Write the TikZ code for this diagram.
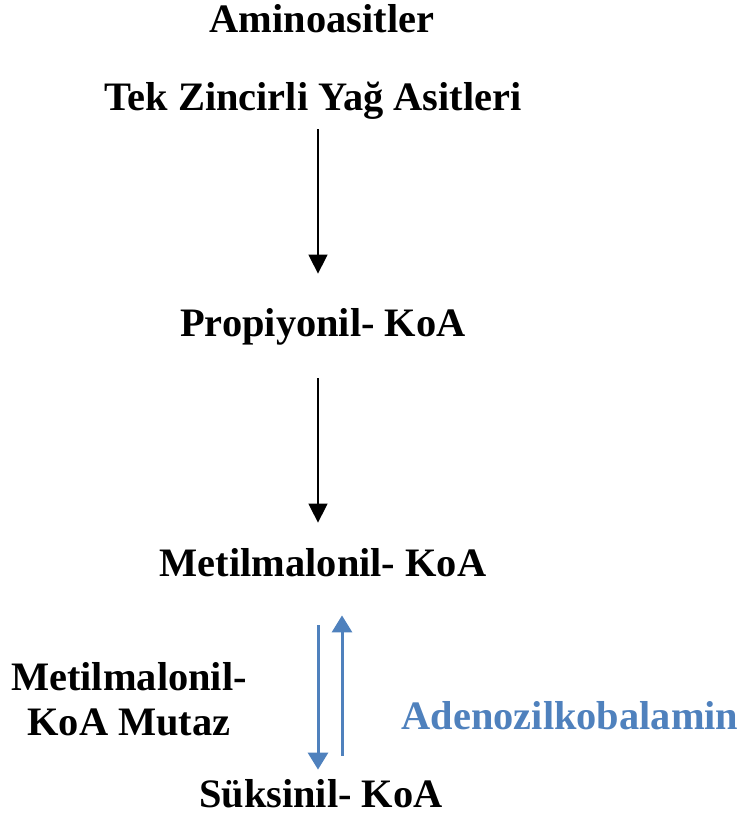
\documentclass[tikz,border=0pt]{standalone}
\usepackage{fontspec}
\setmainfont{Liberation Serif}
\usetikzlibrary{arrows.meta}
\definecolor{pathblue}{HTML}{4F81BD}
\tikzset{
	label/.style={inner sep=0pt, anchor=base, font=\fontsize{20.2}{22.5}\selectfont\bfseries, text height=0.7em, text depth=0.2em},
	flow/.style={line width=0.75pt, -{Triangle[width=9.5pt, length=9.5pt]}},
	bflow/.style={line width=1.5pt, pathblue, -{Triangle[width=10pt, length=8.5pt]}}
}
\begin{document}
\begin{tikzpicture}[x=0.5pt, y=-0.5pt]
	\useasboundingbox (0,0) rectangle (740,821);
	% Pathway steps
	\node[label] (amino) at (322, 32) {Aminoasitler};
	\node[label] (tek) at (313, 110) {Tek Zincirli Yağ Asitleri};
	\node[label] (prop) at (323, 336) {Propiyonil- KoA};
	\node[label] (meta) at (323, 576) {Metilmalonil- KoA};
	\node[label] (suks) at (321, 807) {Süksinil- KoA};
	% Enzyme and cofactor
	\node[label, align=center] (mutaz) at (129, 735) {Metilmalonil-\\KoA Mutaz};
	\node[label, text=pathblue] (ado) at (570, 729) {Adenozilkobalamin};
	% Arrows down the pathway
	\draw[flow, shorten <=7.5pt, shorten >=24pt] ([xshift=2.5pt]tek.south) -- ([xshift=-2.5pt]prop.north);
	\draw[flow, shorten <=19pt, shorten >=19.5pt] ([xshift=-2.5pt]prop.south) -- ([xshift=-2.5pt]meta.north);
	% Mutase step, both ways
	\draw[bflow, shorten <=22.5pt, shorten >=11.5pt] ([xshift=-2.5pt]meta.south) -- ([xshift=-1.5pt]suks.north);
	\draw[bflow, shorten <=18.5pt, shorten >=17.5pt] ([xshift=10.5pt]suks.north) -- ([xshift=9.5pt]meta.south);
\end{tikzpicture}
\end{document}
